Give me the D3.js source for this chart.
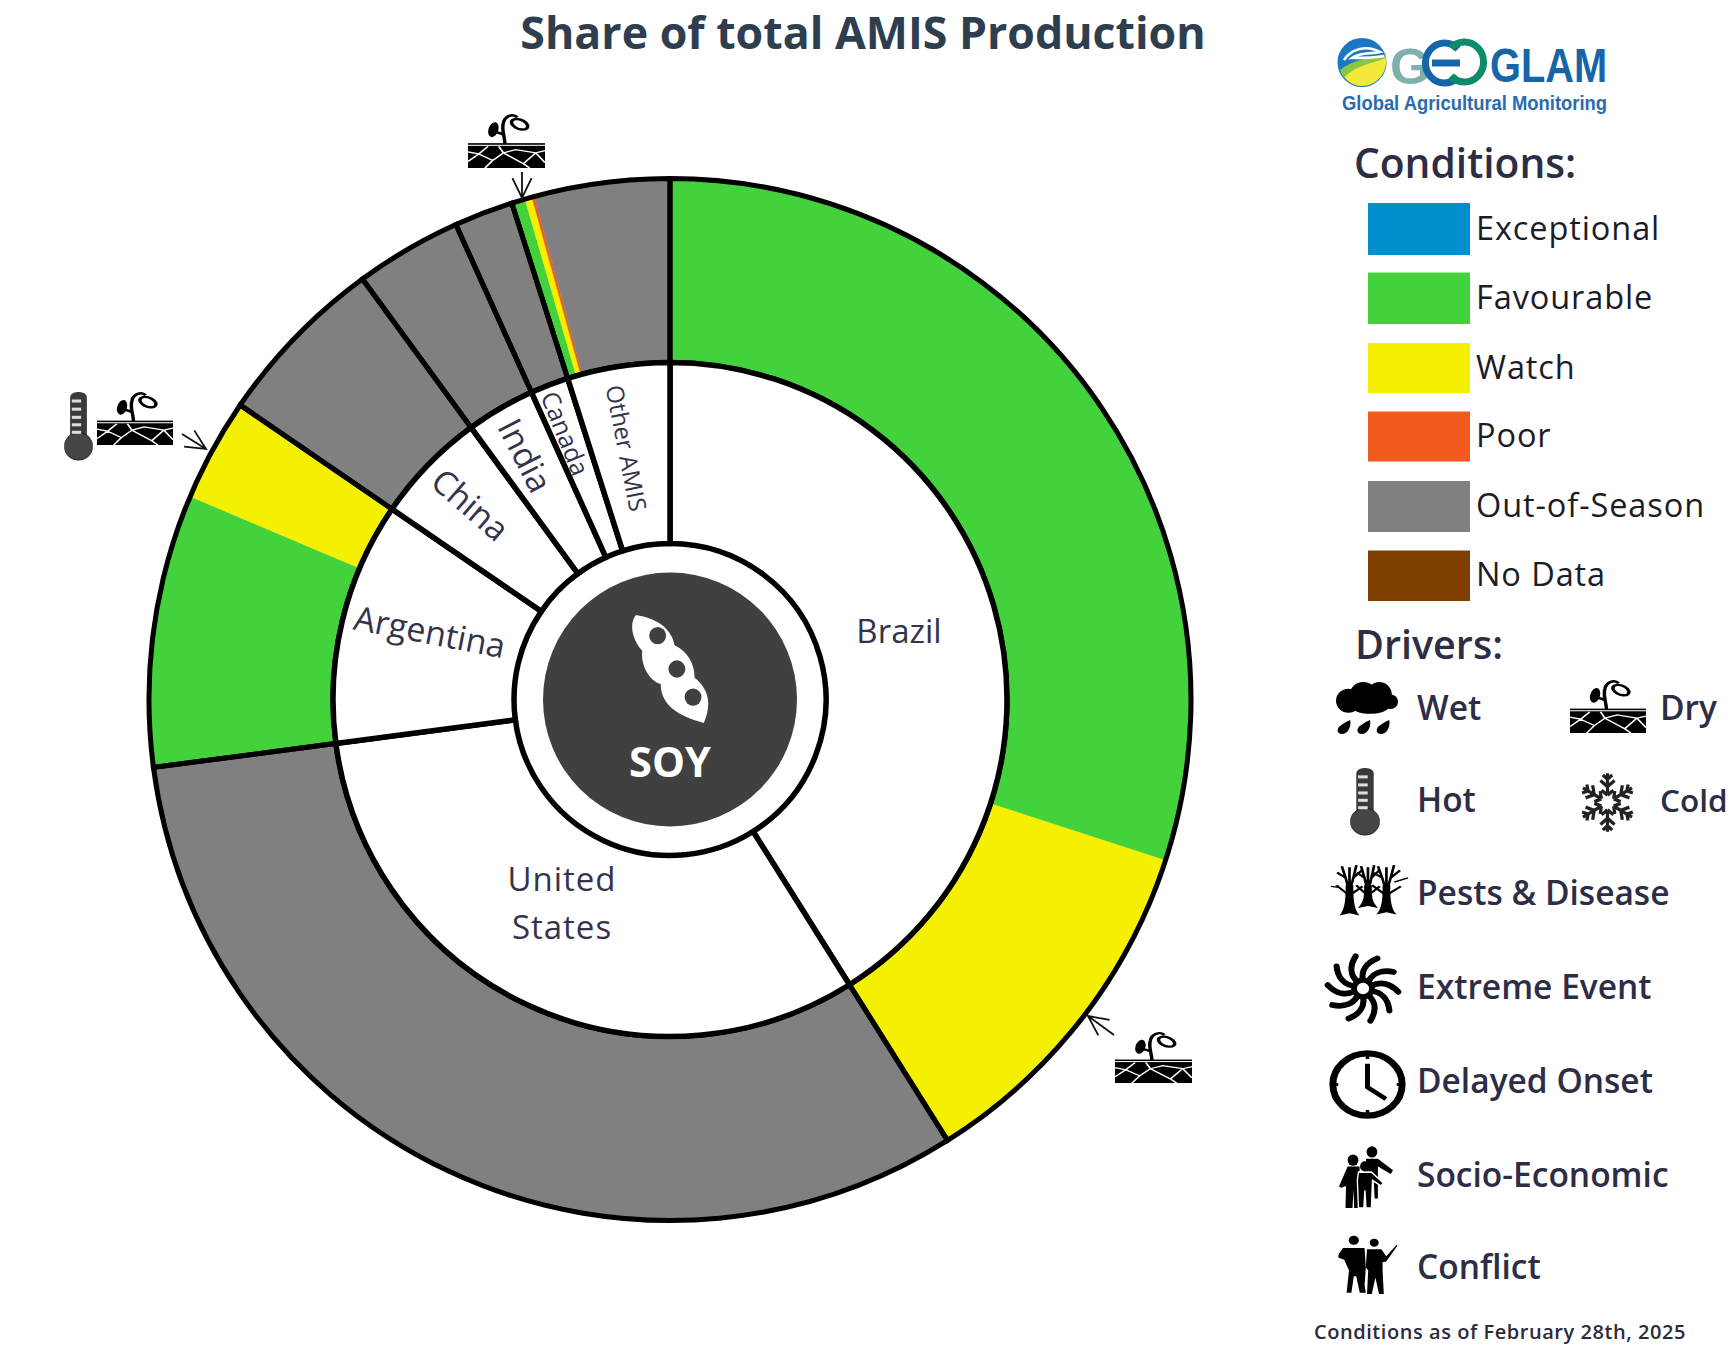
<!DOCTYPE html>
<html><head><meta charset="utf-8">
<script src="https://cdnjs.cloudflare.com/ajax/libs/d3/7.9.0/d3.min.js"></script>
<style>html,body{margin:0;padding:0;background:#fff}svg{display:block}</style>
</head><body><svg id="c" width="1730" height="1350"></svg>
<script>
// ---- data (share of total AMIS production, %) ----
const countries = ["Brazil","United States","Argentina","China","India","Canada","Other AMIS"];
const segmentCountry = ["Brazil","Brazil","United States","Argentina","Argentina","China","India","Canada","Other AMIS","Other AMIS","Other AMIS","Other AMIS"];
const segmentCondition = ["Favourable","Watch","Out-of-Season","Favourable","Watch","Out-of-Season","Out-of-Season","Out-of-Season","Favourable","Watch","Poor","Out-of-Season"];
const segmentShare = [30.0,11.06,31.86,8.45,3.19,5.39,3.31,1.83,0.42,0.22,0.08,4.19];
const conditionNames = ["Exceptional","Favourable","Watch","Poor","Out-of-Season","No Data"];
const conditionColors = ["#0090ce","#43d13c","#f5f000","#f25a1e","#808080","#7f3f00"];
const driverRows = ["Pests & Disease","Extreme Event","Delayed Onset","Socio-Economic","Conflict"];

const svg = d3.select("#c");
const cx = 670, cy = 699.5, R0 = 156, R1 = 337, R2 = 521;
const INK = "#33334d";
const color = d3.scaleOrdinal(conditionNames, conditionColors);
const countryShare = d3.rollup(segmentShare.map((s,i)=>[segmentCountry[i],s]), v=>d3.sum(v,d=>d[1]), d=>d[0]);
const pie = d3.pie().sort(null).startAngle(0).endAngle(2*Math.PI);
const countryArcs = pie.value(c=>countryShare.get(c))(countries);
const segArcs = pie.value(i=>segmentShare[i])(d3.range(segmentShare.length));
const arcOuter = d3.arc().innerRadius(R1).outerRadius(R2);
const arcInner = d3.arc().innerRadius(R0).outerRadius(R1);
const chart = svg.append("g").attr("transform",`translate(${cx},${cy})`);
chart.selectAll("path.seg").data(segArcs).join("path").attr("class","seg").attr("d",arcOuter)
  .attr("fill",d=>color(segmentCondition[d.data])).attr("stroke",d=>color(segmentCondition[d.data])).attr("stroke-width",0.4);
chart.selectAll("path.co").data(countryArcs).join("path").attr("class","co").attr("d",arcOuter)
  .attr("fill","none").attr("stroke","#000").attr("stroke-width",5);
chart.selectAll("path.ci").data(countryArcs).join("path").attr("class","ci").attr("d",arcInner)
  .attr("fill","#fff").attr("stroke","#000").attr("stroke-width",5.5);
chart.append("circle").attr("r",127).attr("fill","#404040");

// labels inside the inner ring
const labelPos = {
  "Brazil":[899,630,0,33],
  "Argentina":[430,631,11,33.8],
  "China":[471,504,41,33.5],
  "India":[526,455,63,33.5],
  "Canada":[566,433,68,25],
  "Other AMIS":[627,448,79,24]
};
countries.filter(c=>labelPos[c]).forEach(c=>{
  const [x,y,r,s]=labelPos[c];
  svg.append("text").attr("transform",`translate(${x},${y}) rotate(${r})`).attr("text-anchor","middle").attr("dominant-baseline","central")
    .attr("font-family","Open Sans").attr("font-size",s).attr("fill",INK).text(c);
});
["United","States"].forEach((t,i)=>svg.append("text").attr("x",562).attr("y",[878,926][i]).attr("text-anchor","middle").attr("dominant-baseline","central")
  .attr("font-family","Open Sans").attr("font-size",33).attr("fill",INK).attr("letter-spacing",1).text(t));

// title
svg.append("text").attr("x",863).attr("y",49).attr("text-anchor","middle").attr("font-family","Open Sans").attr("font-weight",700)
  .attr("font-size",44.7).attr("fill","#2f3e4e").text("Share of total AMIS Production");

// SOY
svg.append("text").attr("x",670).attr("y",777).attr("text-anchor","middle").attr("font-family","Open Sans").attr("font-weight",700)
  .attr("font-size",41.5).attr("fill","#fff").text("SOY");
place(633,615,710,723,g=>{
  g.append("path").attr("fill","#fff").attr("d","M4 0 C30 3 50 12 54 28 C72 34 80 46 80 58 C98 68 103 82 92 100 C60 94 36 84 36 64 C20 60 10 46 12 33 C0 24 -6 8 4 0Z");
  [[32,19],[57,50],[78,76]].forEach(p=>g.append("ellipse").attr("cx",p[0]).attr("cy",p[1]).attr("rx",11).attr("ry",8).attr("fill","#404040"));
});

// ---- icons ----
function place(x0,y0,x1,y1,draw){
  const g=svg.append("g").attr("transform",`translate(${x0},${y0}) scale(${(x1-x0)/100},${(y1-y0)/100})`);
  draw(g); return g;
}
function dry(g){
  g.append("rect").attr("x",0).attr("y",54).attr("width",100).attr("height",3).attr("fill","#000");
  g.append("rect").attr("x",0).attr("y",59).attr("width",100).attr("height",41).attr("fill","#000");
  g.append("path").attr("fill","none").attr("stroke","#fff").attr("stroke-width",2.4)
   .attr("d","M0 70 L14 74 L26 60 M14 74 L0 88 M14 74 L32 86 L22 100 M32 86 L46 72 L40 60 M46 72 L72 92 L80 100 M46 72 L62 66 L88 72 L100 68 M72 92 L88 72 M88 72 L100 90");
  g.append("path").attr("fill","none").attr("stroke","#000").attr("stroke-width",4.5)
   .attr("d","M48 56 C48 42 43 30 46 16 C48 4 58 -2 64 6 M46 38 C40 34 36 34 33 32");
  g.append("ellipse").attr("cx",67).attr("cy",19).attr("rx",12).attr("ry",8).attr("transform","rotate(40 67 19)").attr("fill","none").attr("stroke","#000").attr("stroke-width",4.5);
  g.append("ellipse").attr("cx",33).attr("cy",29).attr("rx",6.5).attr("ry",14).attr("transform","rotate(10 33 29)").attr("fill","#000");
}
function hot(g){
  g.append("rect").attr("x",21).attr("y",0).attr("width",58).attr("height",75).attr("rx",26).attr("ry",8).attr("fill","#3a3a3a");
  g.append("ellipse").attr("cx",50).attr("cy",80).attr("rx",49).attr("ry",20).attr("fill","#454545").attr("stroke","#222").attr("stroke-width",1.5);
  [11,23,35,46,57].forEach(y=>g.append("rect").attr("x",27).attr("y",y).attr("width",32).attr("height",4.5).attr("fill","#ddd"));
}
function wet(g){
  [[20,36,20,23],[44,24,22,24],[70,24,20,24],[88,38,12,14],[55,44,32,17]].forEach(e=>g.append("ellipse").attr("cx",e[0]).attr("cy",e[1]).attr("rx",e[2]).attr("ry",e[3]).attr("fill","#000"));
  [3,35,66].forEach(x=>g.append("path").attr("fill","#000").attr("d",`M${x+20} 73 C${x+22} 90 ${x+14} 100 ${x+7} 100 C${x-2} 100 ${x-2} 90 ${x+3} 85 C${x+8} 80 ${x+14} 76 ${x+20} 73Z`));
}
function cold(g){
  d3.range(6).forEach(i=>{
    g.append("path").attr("transform",`rotate(${i*60} 50 50)`).attr("fill","none").attr("stroke","#222").attr("stroke-width",5.5)
     .attr("d","M50 36V2 M50 12 L42 5 M50 12 L58 5 M50 24 L38 14 M50 24 L62 14 M50 38 L40 30 M50 38 L60 30");
  });
}
function tree(g,x,b,s){
  g.append("path").attr("fill","#000").attr("d",`M${x-5} 42 C${x-5} 65 ${x-5} ${b-14} ${x-13} ${b-1} L${x} ${b-5} L${x+13} ${b-1} C${x+5} ${b-14} ${x+5} 65 ${x+5} 42Z`);
  g.append("path").attr("fill","none").attr("stroke","#000").attr("stroke-width",3.5)
   .attr("d",`M${x} 55 L${x-5*s} 28 L${x-10*s} 6 M${x} 55 L${x+5*s} 28 L${x+9*s} 4 M${x-5*s} 28 L${x-16*s} 18 M${x+5*s} 28 L${x+16*s} 14 M${x} 50 V8 M${x-3} 58 L${x-17*s} 42 M${x+3} 58 L${x+17*s} 44`);
}
function pests(g){ tree(g,24,100,1); tree(g,48,86,0.9); tree(g,72,98,1.1);
  g.append("path").attr("fill","none").attr("stroke","#000").attr("stroke-width",2.5).attr("d","M82 36 L100 28 M0 44 L10 46"); }
function extreme(g){
  d3.range(10).forEach(i=>g.append("path").attr("transform",`rotate(${i*36} 50 50)`).attr("fill","none").attr("stroke","#000").attr("stroke-width",8.5).attr("stroke-linecap","round")
    .attr("d","M50 38 C47 24 54 12 70 5"));
  g.append("circle").attr("cx",50).attr("cy",50).attr("r",12.5).attr("fill","#fff").attr("stroke","#000").attr("stroke-width",8);
}
function delayed(g){
  g.append("circle").attr("cx",50).attr("cy",50).attr("r",45).attr("fill","none").attr("stroke","#000").attr("stroke-width",9);
  g.append("path").attr("fill","none").attr("stroke","#000").attr("stroke-width",6.5).attr("stroke-linejoin","round").attr("d","M50 20 V54 L74 71");
  g.append("path").attr("fill","none").attr("stroke","#000").attr("stroke-width",4.5).attr("d","M50 6V13 M50 87V94 M6 50H12 M88 50H94");
}
function fig(g,pts,hx,hy,hr,outline){
  g.append("path").attr("fill","#000").attr("stroke",outline?"#fff":"none").attr("stroke-width",outline?2.5:0)
    .attr("d",d3.line()(pts)+"Z");
  g.append("ellipse").attr("cx",hx).attr("cy",hy).attr("rx",hr).attr("ry",hr*0.9).attr("fill","#000");
}
function socio(g){
  fig(g,[[50,22],[72,22],[100,40],[96,46],[72,34],[72,85],[66,85],[64,50],[50,45]],61,11,10);
  fig(g,[[16,34],[38,34],[40,100],[28,100],[27,70],[25,100],[12,100],[13,65],[4,68],[0,66]],26,24,10);
  fig(g,[[36,43],[60,43],[82,60],[78,65],[62,56],[60,100],[50,100],[48,72],[46,100],[36,100],[34,56]],48,34,9,true);
}
function conflict(g){
  fig(g,[[10,22],[46,22],[48,55],[46,85],[48,98],[38,98],[32,70],[28,70],[24,98],[16,98],[20,60],[12,42],[2,38],[3,32]],28,9,8.5);
  fig(g,[[50,24],[74,24],[82,36],[100,16],[100,19],[82,45],[76,46],[76,60],[78,100],[70,100],[64,72],[58,100],[50,100],[52,60],[48,55]],62,13,7.5);
}
// map annotations
const arrow = (x0,y0,x1,y1)=>{
  const a=Math.atan2(y1-y0,x1-x0), L=22, sp=0.45;
  svg.append("path").attr("fill","none").attr("stroke","#111").attr("stroke-width",1.8)
   .attr("d",`M${x0} ${y0}L${x1} ${y1}M${x1-L*Math.cos(a-sp)} ${y1-L*Math.sin(a-sp)}L${x1} ${y1}L${x1-L*Math.cos(a+sp)} ${y1-L*Math.sin(a+sp)}`);
};
place(468,114,545,168,dry); arrow(522,172,522,198);
place(64,392,93,460,hot); place(97,392,173,445,dry); arrow(182,434,206,449);
place(1115,1032,1192,1083,dry); arrow(1114,1035,1088,1016);

// ---- legend ----
const swatchY=[203,272.5,343,411.5,481,550.5], swatchH=[52,51.5,50,50,51,50.5];
svg.append("text").attr("x",1354).attr("y",178).attr("font-family","Open Sans").attr("font-weight",600).attr("font-size",40.7).attr("fill","#2d2d45").text("Conditions:");
conditionNames.forEach((n,i)=>{
  svg.append("rect").attr("x",1368).attr("y",swatchY[i]).attr("width",102).attr("height",swatchH[i]).attr("fill",conditionColors[i]);
  svg.append("text").attr("x",1476).attr("y",swatchY[i]+swatchH[i]/2-2).attr("dominant-baseline","central").attr("font-family","Open Sans").attr("font-weight",500).attr("font-size",32.5).attr("fill","#1c1c28").attr("letter-spacing",0.9).text(n);
});
svg.append("text").attr("x",1355).attr("y",659).attr("font-family","Open Sans").attr("font-weight",600).attr("font-size",39.5).attr("fill","#2d2d45").text("Drivers:");
const drv=(t,x,y,s)=>svg.append("text").attr("x",x).attr("y",y).attr("dominant-baseline","central").attr("font-family","Open Sans").attr("font-weight",600).attr("font-size",s||33.5).attr("fill","#2d2d45").text(t);
drv("Wet",1417,707); drv("Dry",1660,707); drv("Hot",1417,799); drv("Cold",1660,799,31.5);
[892,986,1080,1174,1266].forEach((y,i)=>drv(driverRows[i],1417,y));
place(1336,682,1398,734,wet); place(1570,680,1646,733,dry); place(1350,768,1380,835,hot); place(1578,772,1637,833,cold);
place(1331,863,1408,916,pests); place(1327,955,1399,1022,extreme); place(1329,1050,1406,1119,delayed);
place(1339,1145,1393,1208,socio); place(1337,1235,1397,1294,conflict);
svg.append("text").attr("x",1314).attr("y",1339).attr("font-family","Open Sans").attr("font-weight",600).attr("font-size",20).attr("fill","#2b2b3a").attr("letter-spacing",0.55).text("Conditions as of February 28th, 2025");

// ---- logo ----
const lg=svg.append("g");
lg.append("circle").attr("cx",1362).attr("cy",62.5).attr("r",24.5).attr("fill","#1a78c2");
lg.append("path").attr("fill","#f4e93a").attr("d","M1341 72 C1352 64 1372 62 1386 56 C1388 74 1376 86 1362 86 C1352 86 1345 80 1341 72Z");
lg.append("path").attr("fill","#8cc63f").attr("d","M1340 70 C1352 60 1370 58 1386 54 L1386 58 C1368 64 1352 68 1344 78 Z");
lg.append("path").attr("fill","none").attr("stroke","#fff").attr("stroke-width",2.6).attr("d","M1344 60 C1350 50 1366 44 1380 52 C1372 54 1360 52 1352 58 C1362 58 1374 58 1384 56");
const logoT=(t,x,c,y,s,w)=>lg.append("text").attr("x",x).attr("y",y).attr("font-family","Liberation Sans").attr("font-weight",700).attr("font-size",s).attr("fill",c).attr("textLength",w).attr("lengthAdjust","spacingAndGlyphs").text(t);
logoT("G",1390,"#7fb0ad",84,50,40);
lg.append("path").attr("fill","none").attr("stroke","#1565a8").attr("stroke-width",7).attr("d","M1458 49 A19 20 0 1 0 1458 77 M1432 63 H1460");
lg.append("path").attr("fill","none").attr("stroke","#0f8a6a").attr("stroke-width",7).attr("d","M1451 48 A19 20 0 1 1 1451 76");
logoT("GLAM",1490,"#1565a8",82,48,117);
logoT("Global Agricultural Monitoring",1342,"#2a6bb0",110,20.8,265);
</script></body></html>
